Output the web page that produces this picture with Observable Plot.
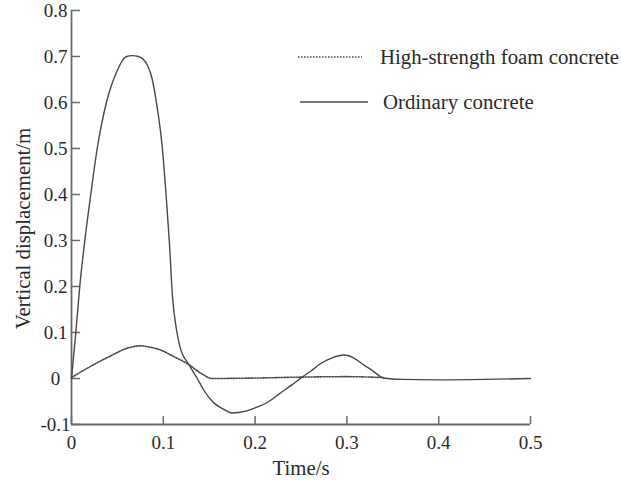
<!DOCTYPE html>
<html>
<head>
<meta charset="utf-8">
<script src="https://cdn.jsdelivr.net/npm/d3@7"></script>
<script src="https://cdn.jsdelivr.net/npm/@observablehq/plot@0.6"></script>
<style>
  body { margin: 0; background: #fff; }
  #wrap { position: relative; width: 622px; height: 480px; }
  #legend { position: absolute; left: 0; top: 0; }
</style>
</head>
<body>
<div id="wrap"></div>
<script>
// Ordinary concrete (solid)
const ordTime = [0, 0.0047, 0.009, 0.0145, 0.021, 0.028, 0.0325, 0.038, 0.044, 0.050, 0.055, 0.060, 0.066, 0.073, 0.083, 0.088, 0.0925, 0.099, 0.103, 0.1065, 0.110, 0.1144, 0.118, 0.128, 0.137, 0.144, 0.155, 0.165, 0.175, 0.19, 0.2, 0.215, 0.228, 0.24, 0.252, 0.262, 0.271, 0.284, 0.297, 0.308, 0.318, 0.33, 0.34, 0.36, 0.4, 0.45, 0.5];
const ordDisp = [0, 0.1, 0.2, 0.3, 0.4, 0.5, 0.55, 0.6, 0.64, 0.67, 0.69, 0.7, 0.702, 0.7, 0.68, 0.65, 0.6, 0.5, 0.4, 0.3, 0.178, 0.106, 0.07, 0.03, 0, -0.025, -0.053, -0.066, -0.075, -0.071, -0.064, -0.05, -0.031, -0.014, 0.004, 0.018, 0.032, 0.045, 0.051, 0.044, 0.03, 0.014, 0.001, -0.002, -0.003, -0.002, 0];
// High-strength foam concrete (dotted)
const foamTime = [0, 0.024, 0.0425, 0.061, 0.075, 0.086, 0.097, 0.111, 0.128, 0.1405, 0.154, 0.2, 0.25, 0.3, 0.34];
const foamDisp = [0.002, 0.03, 0.049, 0.066, 0.071, 0.068, 0.062, 0.048, 0.03, 0.012, 0, 0.001, 0.003, 0.004, 0.002];

const xTicks = [0, 0.1, 0.2, 0.3, 0.4, 0.5];
const yTicks = [-0.1, 0, 0.1, 0.2, 0.3, 0.4, 0.5, 0.6, 0.7, 0.8];
const seriesNames = ["High-strength foam concrete", "Ordinary concrete"];
const seriesDash = ["1.5,1.5", null];
const xTitle = "Time/s";
const yTitle = "Vertical displacement/m";

const ord = ordTime.map((t, i) => ({t, v: ordDisp[i]}));
const foam = foamTime.map((t, i) => ({t, v: foamDisp[i]}));

const fmt = d => d === 0 ? "0" : String(d);
const curveColor = "#484848";
const axisColor = "#6a6a6a";
const textColor = "#2a2a2a";
const serif = "'Liberation Serif', 'Times New Roman', serif";

const chart = Plot.plot({
  width: 622,
  height: 480,
  marginLeft: 71,
  marginRight: 92,
  marginTop: 10,
  marginBottom: 56,
  x: {domain: [0, 0.5]},
  y: {domain: [-0.1, 0.8]},
  style: {fontFamily: serif, fontSize: "19px", color: textColor, background: "#fff"},
  marks: [
    // tick marks (inward)
    Plot.axisY({ticks: yTicks, tickSize: 9, dx: 9, tickFormat: () => "", label: null, stroke: axisColor, strokeWidth: 1.5}),
    Plot.axisX({ticks: xTicks, tickSize: 8, dy: -8, tickFormat: () => "", label: null, stroke: axisColor, strokeWidth: 1.5}),
    // tick labels
    Plot.axisY({ticks: yTicks, tickSize: 0, tickPadding: 16, textAnchor: "middle", tickFormat: fmt, label: null, fill: textColor, fontSize: 19, fontFamily: serif}),
    Plot.axisX({ticks: xTicks, tickSize: 0, tickPadding: 11, tickFormat: fmt, label: null, fill: textColor, fontSize: 19, fontFamily: serif}),
    // axis lines
    Plot.ruleX([0], {stroke: axisColor, strokeWidth: 1.8}),
    Plot.ruleY([-0.1], {stroke: axisColor, strokeWidth: 1.8}),
    // curves
    Plot.line(foam, {x: "t", y: "v", curve: "monotone-x", stroke: curveColor, strokeWidth: 1.6, strokeDasharray: "1.5,1.5"}),
    Plot.line(ord, {x: "t", y: "v", curve: "monotone-x", stroke: curveColor, strokeWidth: 1.4}),
    // axis titles
    Plot.text([xTitle], {frameAnchor: "bottom", lineAnchor: "middle", textAnchor: "middle", dy: 43.5, fontSize: 20.8, fontFamily: serif, fill: textColor}),
    Plot.text([yTitle], {frameAnchor: "left", rotate: -90, textAnchor: "middle", lineAnchor: "middle", dx: -48.4, dy: 11, fontSize: 20.8, fontFamily: serif, fill: textColor})
  ]
});

const wrap = document.getElementById("wrap");
wrap.appendChild(chart);

// legend overlay
const leg = d3.select(wrap).append("svg").attr("id", "legend")
  .attr("width", 622).attr("height", 480)
  .style("font-family", serif)
  .style("font-size", "20.8px");
const legRows = [
  {x1: 298, x2: 362, tx: 380, y: 57},
  {x1: 300, x2: 368, tx: 383, y: 102}
];
seriesNames.forEach((name, i) => {
  const r = legRows[i];
  leg.append("line").attr("x1", r.x1).attr("x2", r.x2).attr("y1", r.y).attr("y2", r.y)
    .attr("stroke", curveColor).attr("stroke-width", seriesDash[i] ? 1.6 : 1.4)
    .attr("stroke-dasharray", seriesDash[i]);
  leg.append("text").attr("x", r.tx).attr("y", r.y).attr("dy", "0.32em")
    .attr("fill", textColor).text(name);
});
</script>
</body>
</html>
